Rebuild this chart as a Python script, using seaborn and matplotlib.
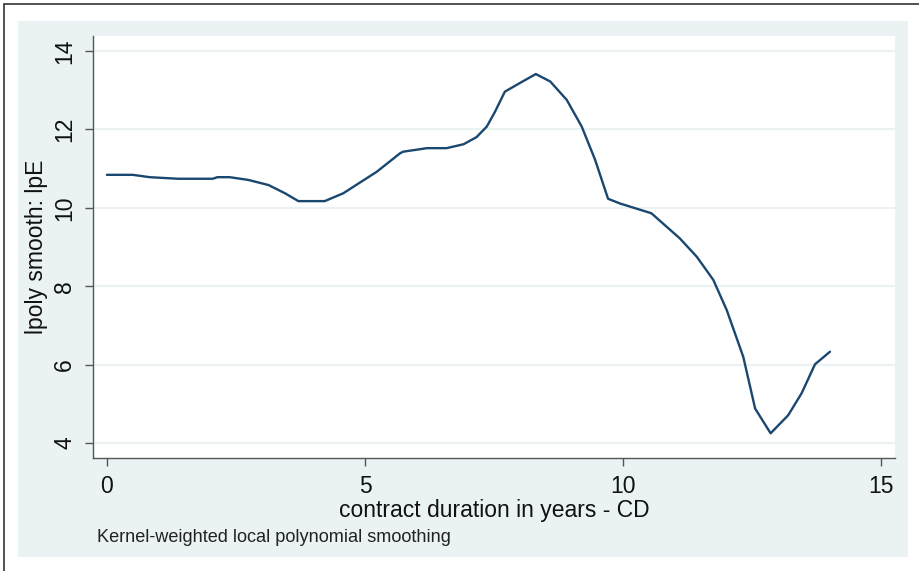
import numpy as np
import pandas as pd
import matplotlib.pyplot as plt
import seaborn as sns
from matplotlib.patches import Rectangle
#
# Values:
cd = [0.0, 0.5, 0.83, 1.38, 2.05, 2.14, 2.38, 2.74, 3.13, 3.45, 3.71, 4.22,
      4.58, 5.23, 5.68, 5.74, 6.2, 6.58, 6.91, 7.16, 7.36, 7.52, 7.71, 8.0,
      8.31, 8.59, 8.91, 9.2, 9.46, 9.71, 9.94, 10.55, 11.1, 11.43, 11.75,
      12.01, 12.33, 12.56, 12.86, 13.2, 13.46, 13.72, 14.01]
lpe = [10.84, 10.84, 10.78, 10.74, 10.74, 10.78, 10.78, 10.71, 10.58, 10.37,
       10.17, 10.17, 10.37, 10.92, 11.39, 11.43, 11.52, 11.52, 11.62, 11.80,
       12.07, 12.45, 12.96, 13.18, 13.41, 13.22, 12.75, 12.07, 11.22, 10.23,
       10.11, 9.86, 9.22, 8.75, 8.16, 7.39, 6.20, 4.88, 4.25, 4.71, 5.27,
       6.01, 6.33]
xticks = [0, 5, 10, 15]
yticks = [4, 6, 8, 10, 12, 14]
#
df = pd.DataFrame({'cd': cd, 'lpe': lpe})
#
# Style:
sns.set_style('white')
plt.rcParams['font.family'] = ['Liberation Sans', 'DejaVu Sans']
panel = '#eaf2f3'
navy = '#1a476f'
W, H = 919, 571
#
fig = plt.figure(figsize=(W / 100, H / 100), dpi=100)
fig.patch.set_facecolor('white')
#
# Outer light panel and the black frame:
fig.patches.append(Rectangle((18 / W, 1 - 557 / H), (908 - 18) / W, (557 - 21) / H,
                             transform=fig.transFigure, facecolor=panel,
                             edgecolor='none', zorder=-2))
fig.patches.append(Rectangle((4 / W, -0.05), 1.2, 1 - 4 / H + 0.05,
                             transform=fig.transFigure, facecolor='none',
                             edgecolor='#333333', linewidth=1.2, zorder=-1))
#
ax = fig.add_axes([93 / W, 1 - 458 / H, (895 - 93) / W, (458 - 36) / H])
ax.set_zorder(2)
ax.set_facecolor('white')
sns.lineplot(data=df, x='cd', y='lpe', color=navy, linewidth=1.7, ax=ax)
#
ax.set_xlim(-0.27, 15.27)
ax.set_ylim(3.62, 14.38)
ax.set_xticks(xticks)
ax.set_yticks(yticks)
ax.set_yticklabels([str(v) for v in yticks], rotation=90, va='center')
ax.grid(axis='y', color=panel, linewidth=1.5)
ax.set_axisbelow(True)
#
for s in ['top', 'right']:
    ax.spines[s].set_visible(False)
for s in ['left', 'bottom']:
    ax.spines[s].set_color('#555555')
    ax.spines[s].set_linewidth(1.0)
ax.tick_params(axis='both', which='major', direction='out', length=6,
               width=1.0, color='#555555', labelsize=16.5, labelcolor='#111111',
               left=True, bottom=True, pad=6)
#
ax.set_xlabel('contract duration in years - CD', fontsize=16.5, color='#111111',
              labelpad=1)
ax.set_ylabel('lpoly smooth: lpE', fontsize=16.5, color='#111111', labelpad=4)
#
fig.text(97 / W, 1 - 537 / H, 'Kernel-weighted local polynomial smoothing',
         fontsize=13.1, color='#222222', va='center', ha='left')
#
fig.savefig('out.png', dpi=100)
